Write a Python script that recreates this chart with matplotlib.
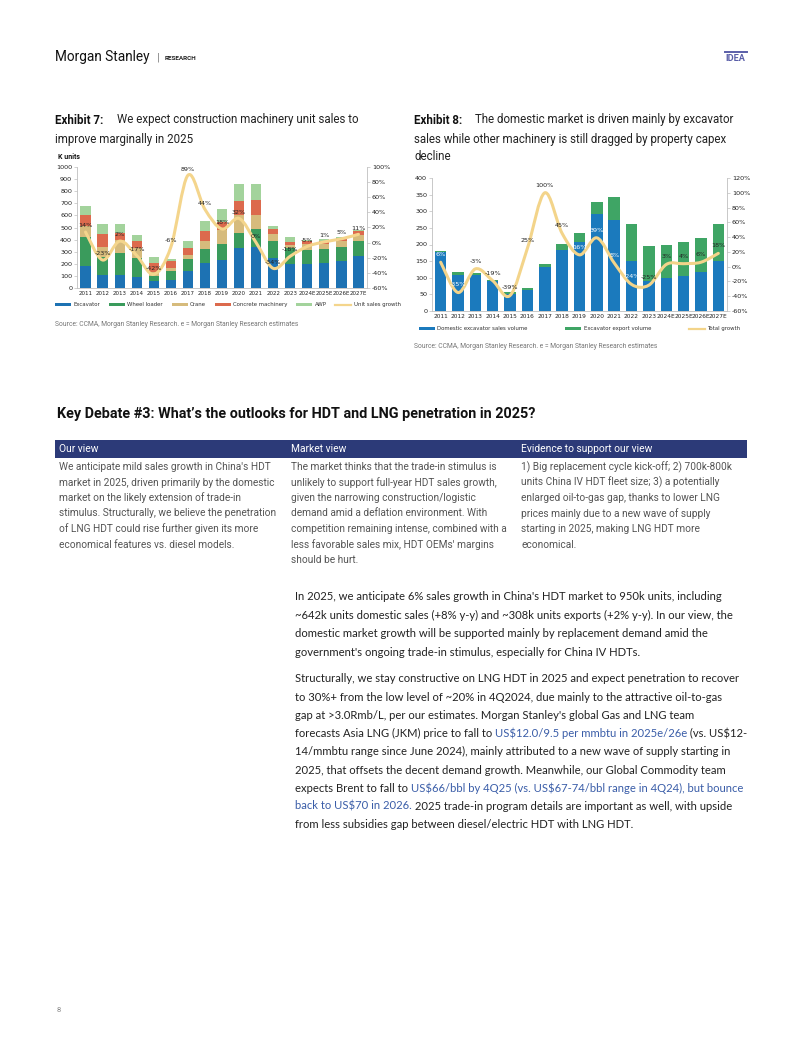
import numpy as np
import matplotlib
matplotlib.use("Agg")
import matplotlib.pyplot as plt
from matplotlib.path import Path
from matplotlib.patches import PathPatch
from matplotlib import font_manager

W, H = 802, 1037

# ---- data: exhibit 7 (K units) ----
years1 = ["2011", "2012", "2013", "2014", "2015", "2016", "2017", "2018", "2019",
          "2020", "2021", "2022", "2023", "2024E", "2025E", "2026E", "2027E"]
excavator = [180, 110, 110, 95, 60, 70, 140, 203, 235, 327, 342, 244, 197, 198, 204, 220, 262]
wheel_loader = [245, 150, 180, 150, 40, 70, 97, 120, 125, 130, 143, 144, 130, 112, 115, 118, 125]
crane = [85, 82, 110, 85, 35, 23, 38, 67, 120, 147, 119, 62, 28, 50, 45, 48, 55]
concrete = [92, 105, 55, 55, 70, 62, 57, 85, 68, 119, 124, 35, 27, 25, 25, 25, 25]
awp = [75, 78, 70, 55, 50, 13, 53, 78, 103, 138, 133, 27, 36, 15, 16, 14, 15]
growth1 = [14, -23, 2, -17, -42, -6, 89, 44, 18, 32, 0, -34, -18, -5, 1, 5, 11]

# ---- data: exhibit 8 (K units) ----
years2 = years1
domestic = [178, 109, 107, 89, 52, 63, 131, 183, 208, 293, 274, 151, 90, 100, 105, 117, 150]
export = [3, 9, 8, 4, 4, 7, 10, 20, 28, 35, 69, 110, 105, 100, 102, 104, 111]
growth2 = [6, -35, -3, -19, -39, 25, 100, 45, 16, 39, 5, -24, -25, 3, 4, 6, 18]
white_lbl2 = [True, True, False, False, False, False, False, False, True, True, True, True,
              False, False, False, False, False]

names = {f.name for f in font_manager.fontManager.ttflist}
COND = "Liberation Sans Narrow" if "Liberation Sans Narrow" in names else "Roboto"
SANS = "Roboto"
BODY = "Lato"

fig = plt.figure(figsize=(W / 100, H / 100), dpi=100)
fig.patch.set_facecolor("white")
renderer = fig.canvas.get_renderer()


def P(x, y):
    return x / W, 1 - y / H


def T(x, y, s, **kw):
    kw.setdefault("va", "center")
    kw.setdefault("ha", "left")
    return fig.text(*P(x, y), s, parse_math=False, **kw)


def segs(x, y, parts, **kw):
    # write several coloured pieces one after another on a line
    for s, c in parts:
        t = T(x, y, s, color=c, **kw)
        bb = t.get_window_extent(renderer)
        x = bb.x1


def smooth_line(ax, xs, ys, color, lw):
    # excel-like smoothed line through the points (bezier segments)
    pts = np.column_stack([xs, ys]).astype(float)
    n = len(pts)
    verts = [pts[0]]
    codes = [Path.MOVETO]
    for i in range(n - 1):
        p0 = pts[i - 1] if i > 0 else pts[i]
        p1 = pts[i]
        p2 = pts[i + 1]
        p3 = pts[i + 2] if i + 2 < n else pts[i + 1]
        c1 = p1 + (p2 - p0) / 6
        c2 = p2 - (p3 - p1) / 6
        verts += [c1, c2, p2]
        codes += [Path.CURVE4] * 3
    ax.add_patch(PathPatch(Path(verts, codes), fill=False, edgecolor=color, lw=lw,
                           capstyle="round", joinstyle="round", zorder=4))


def style_axes(ax, axr, xsize):
    for a in (ax, axr):
        a.spines["top"].set_visible(False)
        for s in ("left", "right", "bottom"):
            a.spines[s].set_color("#bfbfbf")
            a.spines[s].set_linewidth(0.6)
        a.tick_params(axis="y", labelsize=4.6, length=2, width=0.5, color="#bfbfbf",
                      pad=1.5, labelcolor="#222222")
    ax.tick_params(axis="x", labelsize=xsize, length=0, pad=2.5, labelcolor="#222222")
    ax.spines["right"].set_visible(False)
    axr.spines["left"].set_visible(False)
    axr.spines["bottom"].set_visible(False)


# ---------------- header ----------------
T(55, 57, "Morgan Stanley", fontsize=9.8, family=SANS, color="#111111")
T(157, 57, "|", fontsize=8, family=SANS, color="#777777")
T(165, 58, "RESEARCH", fontsize=4.6, family=SANS, weight="bold", color="#222222")
T(725, 58.5, "IDEA", fontsize=6.6, family=SANS, weight="bold", color="#5a5ea8")
fig.add_artist(plt.Line2D([725 / W, 747 / W], [1 - 51.5 / H] * 2, color="#5a5ea8", lw=1.4))

# ---------------- exhibit titles ----------------
TS = 8.3
T(55, 120, "Exhibit 7:", fontsize=TS, family=SANS, weight="bold", color="#111111")
T(117, 120, "We expect construction machinery unit sales to", fontsize=TS, family=SANS, color="#222222")
T(55, 139, "improve marginally in 2025", fontsize=TS, family=SANS, color="#222222")
T(58, 157, "K units", fontsize=5, family=SANS, weight="bold", color="#111111")

T(414, 120, "Exhibit 8:", fontsize=TS, family=SANS, weight="bold", color="#111111")
T(475, 120, "The domestic market is driven mainly by excavator", fontsize=TS, family=SANS, color="#222222")
T(414, 139, "sales while other machinery is still dragged by property capex", fontsize=TS, family=SANS, color="#222222")
T(414, 157, "decline", fontsize=TS, family=SANS, color="#222222")

# ---------------- exhibit 7 chart ----------------
ax1 = fig.add_axes([77 / W, 1 - 288 / H, 290 / W, 121 / H])
x = np.arange(len(years1))
cols1 = ["#1d72b3", "#3a9b5c", "#d6bb7c", "#dc6a4d", "#a3d39c"]
names1 = ["Excavator", "Wheel loader", "Crane", "Concrete machinery", "AWP"]
bottom = np.zeros(len(x))
for vals, c, nm in zip([excavator, wheel_loader, crane, concrete, awp], cols1, names1):
    ax1.bar(x, vals, 0.6, bottom=bottom, color=c, label=nm, zorder=2)
    bottom += np.array(vals)
ax1.set_xlim(-0.5, len(x) - 0.5)
ax1.set_ylim(0, 1000)
ax1.set_yticks(range(0, 1001, 100))
ax1.set_xticks(x)
ax1.set_xticklabels(years1)
ax1r = ax1.twinx()
ax1r.set_ylim(-60, 100)
ax1r.set_yticks(range(-60, 101, 20))
ax1r.set_yticklabels([f"{v}%" for v in range(-60, 101, 20)])
style_axes(ax1, ax1r, 4.0)
smooth_line(ax1r, x, growth1, "#f4d58c", 2.2)
for xi, g in zip(x, growth1):
    ax1r.annotate(f"{g}%", (xi, g), xytext=(0, 4.5), textcoords="offset points",
                  ha="center", va="center", fontsize=4.6, color="#222222", zorder=6)
h1, l1 = ax1.get_legend_handles_labels()
h1.append(plt.Line2D([], [], color="#f4d58c", lw=1.6))
l1.append("Unit sales growth")
ax1.legend(h1, l1, loc="center", bbox_to_anchor=(0.52, -0.14), ncol=6, frameon=False,
           fontsize=3.9, handlelength=3.0, handleheight=0.45, columnspacing=1.6,
           handletextpad=0.4, labelcolor="#333333")

T(55, 325, "Source: CCMA, Morgan Stanley Research. e = Morgan Stanley Research estimates",
  fontsize=4.9, family=SANS, color="#777777")

# ---------------- exhibit 8 chart ----------------
ax2 = fig.add_axes([432 / W, 1 - 311 / H, 295 / W, 133 / H])
ax2.bar(x, domestic, 0.66, color="#1b7abd", label="Domestic excavator sales volume", zorder=2)
ax2.bar(x, export, 0.66, bottom=domestic, color="#3fa565", label="Excavator export volume", zorder=2)
ax2.set_xlim(-0.5, len(x) - 0.5)
ax2.set_ylim(0, 400)
ax2.set_yticks(range(0, 401, 50))
ax2.set_xticks(x)
ax2.set_xticklabels(years2)
ax2r = ax2.twinx()
ax2r.set_ylim(-60, 120)
ax2r.set_yticks(range(-60, 121, 20))
ax2r.set_yticklabels([f"{v}%" for v in range(-60, 121, 20)])
style_axes(ax2, ax2r, 4.2)
smooth_line(ax2r, x, growth2, "#f3d48a", 2.2)
for xi, g, wh in zip(x, growth2, white_lbl2):
    ax2r.annotate(f"{g}%", (xi, g), xytext=(0, 5.5), textcoords="offset points",
                  ha="center", va="center", fontsize=4.6,
                  color="white" if wh else "#222222", zorder=6)
h2, l2 = ax2.get_legend_handles_labels()
h2.append(plt.Line2D([], [], color="#f3d48a", lw=1.6))
l2.append("Total growth")
ax2.legend(h2, l2, loc="center", bbox_to_anchor=(0.5, -0.135), ncol=3, frameon=False,
           fontsize=3.9, handlelength=3.0, handleheight=0.45, columnspacing=7,
           handletextpad=0.4, labelcolor="#333333")

T(414, 347, "Source: CCMA, Morgan Stanley Research. e = Morgan Stanley Research estimates",
  fontsize=4.9, family=SANS, color="#777777")

# ---------------- key debate ----------------
T(57, 414, "Key Debate #3: What\u2019s the outlooks for HDT and LNG penetration in 2025?",
  fontsize=10.4, family=[COND, SANS], weight="bold", color="#111111")

fig.add_artist(plt.Rectangle(P(55, 458), 692 / W, 18 / H, color="#2c3a78", lw=0))
hdr = ["Our view", "Market view", "Evidence to support our view"]
colx = [59, 291, 521]
for cx, s in zip(colx, hdr):
    T(cx, 449, s, fontsize=7.4, family=[COND, SANS], color="white")

col1 = ["We anticipate mild sales growth in China's HDT",
        "market in 2025, driven primarily by the domestic",
        "market on the likely extension of trade-in",
        "stimulus. Structurally, we believe the penetration",
        "of LNG HDT could rise further given its more",
        "economical features vs. diesel models."]
col2 = ["The market thinks that the trade-in stimulus is",
        "unlikely to support full-year HDT sales growth,",
        "given the narrowing construction/logistic",
        "demand amid a deflation environment. With",
        "competition remaining intense, combined with a",
        "less favorable sales mix, HDT OEMs' margins",
        "should be hurt."]
col3 = ["1) Big replacement cycle kick-off; 2) 700k-800k",
        "units China IV HDT fleet size; 3) a potentially",
        "enlarged oil-to-gas gap, thanks to lower LNG",
        "prices mainly due to a new wave of supply",
        "starting in 2025, making LNG HDT more",
        "economical."]
for cx, lines in zip(colx, [col1, col2, col3]):
    for i, s in enumerate(lines):
        T(cx, 467 + 15.5 * i, s, fontsize=7.3, family=[COND, SANS], color="#555555")

# ---------------- body text ----------------
DK, BL = "#222222", "#3a5da8"
BS = 8.15
p1 = ["In 2025, we anticipate 6% sales growth in China's HDT market to 950k units, including",
      "~642k units domestic sales (+8% y-y) and ~308k units exports (+2% y-y). In our view, the",
      "domestic market growth will be supported mainly by replacement demand amid the",
      "government's ongoing trade-in stimulus, especially for China IV HDTs."]
for i, s in enumerate(p1):
    T(295, 597 + 18.4 * i, s, fontsize=BS, family=BODY, color=DK)

p2 = [[("Structurally, we stay constructive on LNG HDT in 2025 and expect penetration to recover", DK)],
      [("to 30%+ from the low level of ~20% in 4Q2024, due mainly to the attractive oil-to-gas", DK)],
      [("gap at >3.0Rmb/L, per our estimates. Morgan Stanley's global Gas and LNG team", DK)],
      [("forecasts Asia LNG (JKM) price to fall to ", DK), ("US$12.0/9.5 per mmbtu in 2025e/26e", BL),
       (" (vs. US$12-", DK)],
      [("14/mmbtu range since June 2024), mainly attributed to a new wave of supply starting in", DK)],
      [("2025, that offsets the decent demand growth. Meanwhile, our Global Commodity team", DK)],
      [("expects Brent to fall to ", DK), ("US$66/bbl by 4Q25 (vs. US$67-74/bbl range in 4Q24), but bounce", BL)],
      [("back to US$70 in 2026.", BL), (" 2025 trade-in program details are important as well, with upside", DK)],
      [("from less subsidies gap between diesel/electric HDT with LNG HDT.", DK)]]
for i, parts in enumerate(p2):
    segs(295, 679 + 18.2 * i, parts, fontsize=BS, family=BODY)

T(57, 1010, "8", fontsize=5.5, family=SANS, color="#888888")

fig.savefig("out.png", dpi=100, facecolor="white")
